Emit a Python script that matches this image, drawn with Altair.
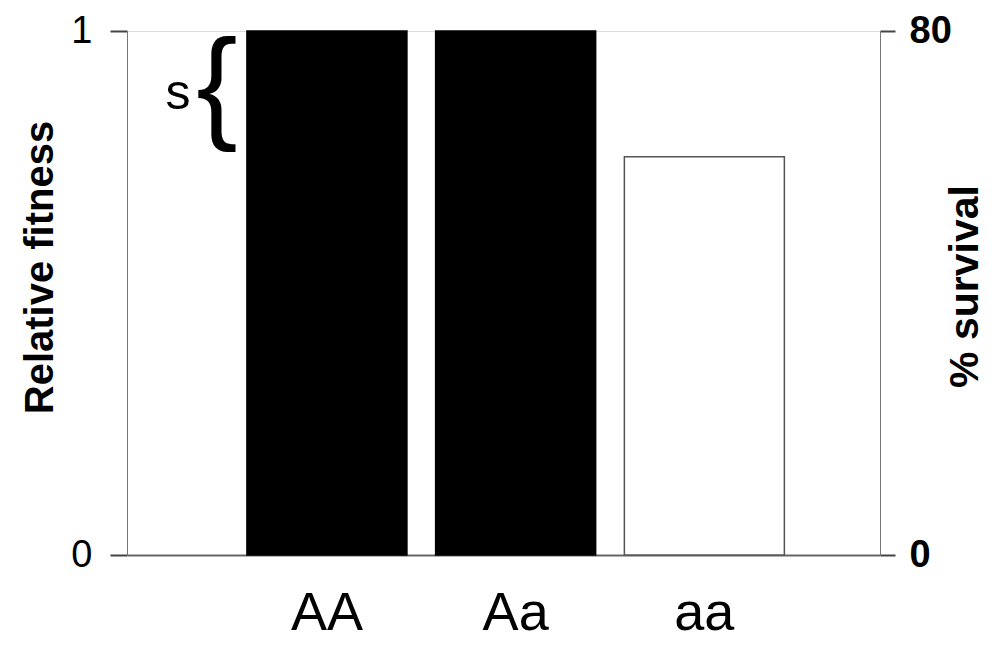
import altair as alt
import pandas as pd

# values
genotypes = ["AA", "Aa", "aa"]
fitness = [1.0, 1.0, 0.76]
bar_fill = ["black", "black", "white"]
bar_edge = ["black", "black", "#555555"]
fitness_ticks = [0, 1]
survival_ticks = [0, 80]

df = pd.DataFrame({"genotype": genotypes, "fitness": fitness,
                   "fill": bar_fill, "edge": bar_edge})

# s = selection coefficient against aa, drawn as a brace from 1 down to w(aa)
s = 1 - fitness[2]
brace_df = pd.DataFrame({"mid": [1 - s / 2], "brace": ["{"], "label": ["s"]})

FONT = "Liberation Sans"

x_enc = alt.X("genotype:N", sort=genotypes, title=None,
              scale=alt.Scale(paddingInner=0, paddingOuter=0.495, align=0.565),
              axis=alt.Axis(ticks=False, labelAngle=0, labelFontSize=54, labelFont=FONT,
                            labelColor="black", labelPadding=31,
                            domainColor="#666666", domainWidth=2))

bars = alt.Chart(df).mark_bar(width=160, strokeWidth=1.5).encode(
    x=x_enc,
    y=alt.Y("fitness:Q", scale=alt.Scale(domain=[0, 1]),
            axis=alt.Axis(values=fitness_ticks, format="d", title="Relative fitness", grid=False,
                          ticks=True, tickSize=17, tickColor="#444444", tickWidth=2,
                          domainColor="#777777",
                          labelFontSize=38, labelFont=FONT, labelColor="black", labelPadding=18,
                          titleFontSize=40, titleFont=FONT, titleFontWeight="bold",
                          titleColor="black", titleAngle=270, titleBaseline="alphabetic",
                          titleAlign="center", titleX=-75, titleY=236)),
    fill=alt.Fill("fill:N", scale=None),
    stroke=alt.Stroke("edge:N", scale=None),
)

brace = alt.Chart(brace_df).mark_text(font=FONT, fontSize=124, baseline="middle", dy=-5,
                                      color="black").encode(
    x=alt.value(90), y=alt.Y("mid:Q"), text="brace:N")

s_label = alt.Chart(brace_df).mark_text(font=FONT, fontSize=50, baseline="middle",
                                        color="black").encode(
    x=alt.value(51), y=alt.Y("mid:Q"), text="label:N")

left = alt.layer(bars, brace, s_label)

right = alt.Chart(pd.DataFrame({"pct": survival_ticks})).mark_point(opacity=0).encode(
    y=alt.Y("pct:Q", scale=alt.Scale(domain=[0, 80]),
            axis=alt.Axis(orient="right", values=survival_ticks, title="% survival", grid=False,
                          ticks=True, tickSize=15, tickColor="#444444", tickWidth=2,
                          domainColor="#777777",
                          labelFontSize=38, labelFont=FONT, labelFontWeight="bold",
                          labelColor="black", labelPadding=14,
                          titleFontSize=41, titleFont=FONT, titleFontWeight="bold",
                          titleColor="black", titleAngle=270, titleBaseline="bottom",
                          titleAlign="center", titleX=106, titleY=255)),
)

chart = alt.layer(left, right).resolve_scale(y="independent").properties(
    width=753, height=524,
    autosize=alt.AutoSizeParams(type="none"),
    padding={"left": 119, "top": 23, "right": 106, "bottom": 86},
).configure_view(stroke=None).configure(background="white")

chart.save("out.html", embed_options={"renderer": "svg", "actions": False})
